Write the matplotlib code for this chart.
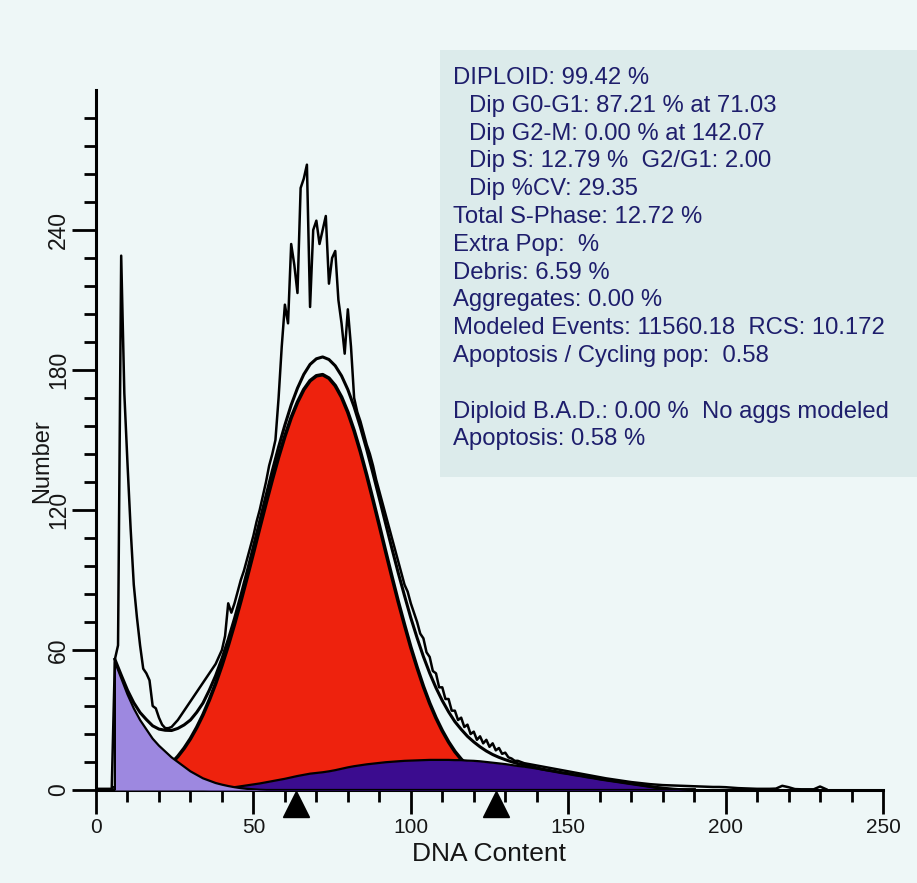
import numpy as np
import matplotlib
matplotlib.use("Agg")
import matplotlib.pyplot as plt
from matplotlib.patches import Rectangle
from matplotlib.ticker import FixedLocator, MultipleLocator

plt.rcParams['font.family'] = ['Liberation Sans', 'DejaVu Sans']

# ---- model components, channels 6..190 every 2 ----
chan = np.arange(6, 191, 2)
debris = [55, 48, 41, 35, 30, 26, 22, 19, 16.5, 14, 12, 10, 8, 6.5, 5, 4, 3, 2.3,
          1.7, 1.2, 0.8, 0.5, 0.3, 0.1] + [0] * 69
g1 = [1.0, 1.3, 1.8, 2.4, 3.2, 4.2, 5.5, 7.1, 9.1, 11.5,
      14.4, 17.9, 22.0, 26.8, 32.3, 38.6, 45.6, 53.4, 61.9, 71.1,
      80.9, 91.1, 101.6, 112.3, 122.8, 133.0, 142.7, 151.6, 159.6, 166.2,
      171.6, 175.4, 177.5, 178.0, 176.5, 173.3, 168.4, 161.9, 154.0, 144.9,
      134.9, 124.3, 113.4, 102.3, 91.4, 80.8, 70.8, 61.2, 52.5, 44.4,
      37.2, 30.9, 25.4, 20.6, 16.5, 13.2, 10.4, 8.1, 6.2, 4.7,
      3.5, 2.6, 1.9, 1.4, 1.0, 0.7, 0.5, 0.3, 0.2, 0.1] + [0] * 23
s_phase = [0] * 15 + [
    0.2, 0.4, 0.6, 0.9, 1.2, 1.6, 2.0, 2.4, 2.8, 3.3,
    3.8, 4.3, 4.8, 5.4, 6.0, 6.5, 7.0, 7.3, 7.6, 8.0,
    8.5, 9.1, 9.7, 10.2, 10.6, 11.0, 11.3, 11.6, 11.9, 12.1,
    12.3, 12.5, 12.6, 12.7, 12.8, 12.9, 12.9, 12.9, 12.9, 12.8,
    12.8, 12.6, 12.5, 12.3, 12.0, 11.7, 11.4, 11.1, 10.7, 10.3,
    10.0, 9.6, 9.2, 8.7, 8.3, 7.9, 7.4, 7.0, 6.5, 6.1,
    5.6, 5.2, 4.7, 4.3, 3.9, 3.5, 3.1, 2.7, 2.3, 1.9,
    1.5, 1.1, 0.8, 0.5, 0.3, 0.1, 0, 0]

# ---- measured histogram ----
raw_chan = np.r_[np.arange(0, 136), np.arange(136, 233, 2)]
raw_count = [
    0.5, 0.5, 0.5, 0.5, 0.5, 0.5, 56, 62, 229, 170,
    140, 112, 88, 74, 62, 52, 50, 47, 36, 35,
    31, 28, 26.5, 26.5, 27, 28.5, 30, 32, 34, 36,
    38, 40, 42, 44, 46, 48, 50, 52, 54, 57,
    60, 66, 80, 76, 80, 85, 90, 94, 99, 104,
    109, 115, 120, 126, 132, 139, 144, 150, 168, 190,
    208, 200, 234, 225, 213, 258, 262, 268, 207, 240,
    244, 234, 240, 246, 217, 228, 231, 210, 200, 187,
    206, 190, 168, 162, 158, 153, 148, 144, 139, 133,
    128, 123, 118, 113, 108, 103, 98, 93, 88, 85,
    80, 76, 72, 67, 65, 59, 57, 51, 50, 44,
    44, 39, 39, 34, 34, 30, 31, 27, 28, 24,
    25, 21.5, 23, 20, 21.5, 18.5, 20, 17, 18, 15.5,
    16, 14, 13.5, 12.5, 12.5, 12,
    # 136..232 every 2
    11.5, 11, 10.5, 10, 9.5, 9, 8.5, 8, 7.5, 7,
    6.5, 6, 5.5, 5, 4.6, 4.2, 3.8, 3.4, 3.1, 2.8,
    2.5, 2.3, 2.1, 2, 1.9, 1.8, 1.7, 1.6, 1.5, 1.4,
    1.3, 1.3, 1.2, 1.0, 0.8, 0.7, 0.6, 0.5, 0.5, 0.5,
    0.6, 1.8, 1.2, 0.4, 0.3, 0.3, 0.3, 1.5, 0.3]

marker_chan = [63.5, 127.0]

stats = [
    ("DIPLOID: 99.42 %", 0),
    ("Dip G0-G1: 87.21 % at 71.03", 1),
    ("Dip G2-M: 0.00 % at 142.07", 1),
    ("Dip S: 12.79 %  G2/G1: 2.00", 1),
    ("Dip %CV: 29.35", 1),
    ("Total S-Phase: 12.72 %", 0),
    ("Extra Pop:  %", 0),
    ("Debris: 6.59 %", 0),
    ("Aggregates: 0.00 %", 0),
    ("Modeled Events: 11560.18  RCS: 10.172", 0),
    ("Apoptosis / Cycling pop:  0.58", 0),
    ("", 0),
    ("Diploid B.A.D.: 0.00 %  No aggs modeled", 0),
    ("Apoptosis: 0.58 %", 0),
]

BG = "#eef7f7"
BOX = "#dcebeb"
RED = "#ee220d"
INDIGO = "#3b0c8f"
LAVENDER = "#9d88e0"
NAVY = "#1e1e6c"
INK = "#161616"

W, H = 917, 883
fig = plt.figure(figsize=(W / 100, H / 100), dpi=100, facecolor=BG)
ax = fig.add_axes([96 / W, (H - 790) / H, 787 / W, 700 / H])
ax.set_facecolor("none")

debris = np.asarray(debris)
g1 = np.asarray(g1)
s_phase = np.asarray(s_phase)
fit = debris + g1 + s_phase

# components: G1 first, S-phase and debris drawn over it
ax.fill_between(chan, 0, g1, color=RED, lw=0, zorder=2)
ax.plot(chan, g1, color="black", lw=2.6, zorder=2.5)
ax.fill_between(chan, 0, s_phase, color=INDIGO, lw=0, zorder=3)
ax.plot(chan, s_phase, color="black", lw=1.6, zorder=3.5)
ax.fill_between(chan, 0, debris, color=LAVENDER, lw=0, zorder=4)
ax.plot(np.r_[chan[0], chan], np.r_[0, debris], color="black", lw=1.6, zorder=4.5)

ax.plot(chan, fit, color="black", lw=2.2, zorder=6)
ax.plot(raw_chan, raw_count, color="black", lw=1.8, zorder=7)

ax.plot(marker_chan, [-6] * len(marker_chan), ls="none", marker="^", ms=19,
        color="black", clip_on=False, zorder=8)

ax.set_xlim(0, 250)
ax.set_ylim(0, 300)
for s in ("top", "right"):
    ax.spines[s].set_visible(False)
for s in ("left", "bottom"):
    ax.spines[s].set_linewidth(2.2)

ax.xaxis.set_major_locator(MultipleLocator(50))
ax.xaxis.set_minor_locator(MultipleLocator(10))
ax.yaxis.set_major_locator(FixedLocator([0, 60, 120, 180, 240]))
ax.yaxis.set_minor_locator(FixedLocator(np.arange(12, 289, 12)))
ax.tick_params(which="major", direction="out", length=17, width=2, colors="black")
ax.tick_params(which="minor", direction="out", length=8.5, width=2, colors="black")
ax.tick_params(axis="x", labelsize=15, pad=3, labelcolor=INK)
ax.tick_params(axis="y", labelsize=16.5, pad=1.5, labelcolor=INK)
plt.setp(ax.get_yticklabels(), rotation=90, va="center")

ax.set_xlabel("DNA Content", fontsize=19, color=INK)
ax.xaxis.label.set_va("center")
ax.xaxis.set_label_coords(0.5, -64 / 700)
ax.set_ylabel("Number", fontsize=17, color=INK)
ax.yaxis.label.set_va("center")
ax.yaxis.set_label_coords(-54 / 787, 0.47)

# statistics panel
fig.patches.append(Rectangle((440 / W, 1 - 477 / H), 477 / W, 427 / H,
                             transform=fig.transFigure, facecolor=BOX,
                             edgecolor="none", zorder=0))
y = 78
for text, indent in stats:
    if text:
        fig.text((453 + 16 * indent) / W, 1 - y / H, text, fontsize=17.2,
                 color=NAVY, va="center", ha="left")
    y += 27.8

fig.savefig("out.png", dpi=100, facecolor=BG)
